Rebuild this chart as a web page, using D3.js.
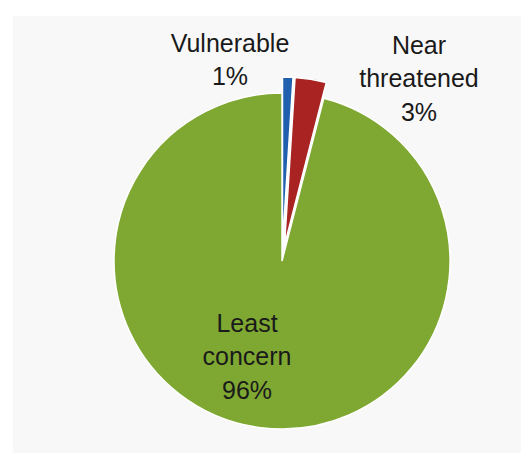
<!doctype html>
<html lang="en">
<head>
  <meta charset="UTF-8">
  <title>Conservation status</title>
  <script src="https://cdn.jsdelivr.net/npm/d3@7/dist/d3.min.js"></script>
  <style>
    html, body { margin: 0; padding: 0; background: #fff; }
  </style>
</head>
<body>
<svg width="521" height="453" id="pie"></svg>
<script>
  var categories = ['Vulnerable', 'Near threatened', 'Least concern'];
  var values = [1, 3, 96];
  var percentLabels = ['1%', '3%', '96%'];
  var labelLines = [['Vulnerable'], ['Near', 'threatened'], ['Least', 'concern']];

  (function () {
    var svg = d3.select('#pie'),
      width = +svg.attr('width'),
      height = +svg.attr('height');

    var cx = 282, cy = 261, radius = 168;
    var explode = {'Vulnerable': 16, 'Near threatened': 16, 'Least concern': 0};
    // label anchor (centre of first line) relative to pie centre
    var labelAt = {
      'Vulnerable': [-52, -218],
      'Near threatened': [137, -216],
      'Least concern': [-35, 62]
    };
    var lineH = 33.5;

    var color = d3.scaleOrdinal()
      .domain(categories)
      .range(['#2060ae', '#a92323', '#7fa832']);

    svg.append('rect')
      .attr('x', 13).attr('y', 16)
      .attr('width', width - 13).attr('height', height - 16)
      .attr('fill', '#f8f8f8');

    var g = svg.append('g').attr('transform', 'translate(' + cx + ',' + cy + ')');

    var data = categories.map(function (c, i) {
      return {name: c, value: values[i], pct: percentLabels[i], lines: labelLines[i]};
    });

    var pie = d3.pie().sort(null).value(function (d) { return d.value; });
    var arc = d3.arc().innerRadius(0).outerRadius(radius);

    g.selectAll('.slice').data(pie(data)).enter().append('path')
      .attr('class', 'slice')
      .attr('d', arc)
      .attr('transform', function (d) {
        var a = (d.startAngle + d.endAngle) / 2,
          off = explode[d.data.name];
        return 'translate(' + (Math.sin(a) * off) + ',' + (-Math.cos(a) * off) + ')';
      })
      .attr('fill', function (d) { return color(d.data.name); })
      .attr('stroke', '#fff')
      .attr('stroke-width', 1.5);

    var labels = g.selectAll('.label').data(data).enter().append('text')
      .attr('class', 'label')
      .attr('text-anchor', 'middle')
      .attr('font-family', 'Liberation Sans, Arial, sans-serif')
      .attr('font-size', 25)
      .attr('fill', '#1a1a1a')
      .attr('transform', function (d) {
        var p = labelAt[d.name];
        return 'translate(' + p[0] + ',' + p[1] + ')';
      });

    labels.each(function (d) {
      var t = d3.select(this);
      d.lines.concat([d.pct]).forEach(function (line, i) {
        t.append('tspan')
          .attr('x', 0)
          .attr('y', i * lineH)
          .attr('dy', '0.35em')
          .text(line);
      });
    });
  })();
</script>
</body>
</html>
